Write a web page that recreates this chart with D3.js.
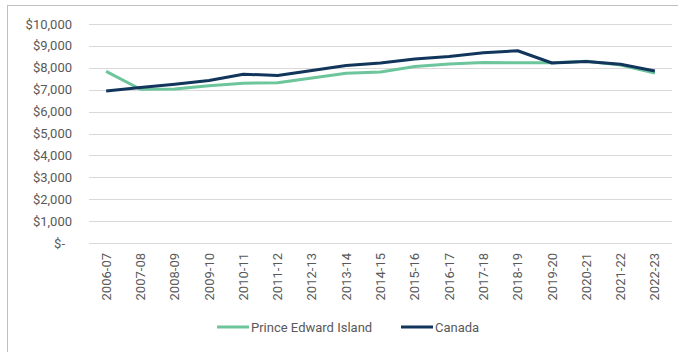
<!DOCTYPE html>
<html>
<head>
<meta charset="utf-8">
<script src="https://cdn.jsdelivr.net/npm/d3@7"></script>
<style>
  body { margin: 0; background: #fff; }
  text { font-family: Roboto, "Liberation Sans", sans-serif; fill: #595959; }
</style>
</head>
<body>
<div id="chart"></div>
<script>
// data
const years = ["2006-07", "2007-08", "2008-09", "2009-10", "2010-11", "2011-12", "2012-13",
    "2013-14", "2014-15", "2015-16", "2016-17", "2017-18", "2018-19", "2019-20",
    "2020-21", "2021-22", "2022-23"];
const pei = [7840, 7020, 7030, 7180, 7300, 7320, 7530, 7750, 7810, 8060, 8170, 8240, 8230, 8230, 8300, 8130, 7760];
const canada = [6940, 7100, 7250, 7420, 7710, 7650, 7880, 8100, 8220, 8400, 8520, 8690, 8780, 8220, 8290, 8160, 7850];
const yTicks = [0, 1000, 2000, 3000, 4000, 5000, 6000, 7000, 8000, 9000, 10000];

const series = [
    { name: "Prince Edward Island", values: pei, color: "#6cc59b" },
    { name: "Canada", values: canada, color: "#12355c" }
];

const W = 678, H = 352;
const svg = d3.select("#chart").append("svg")
    .attr("width", W)
    .attr("height", H);

// outer frame
svg.append("rect")
    .attr("x", 7.5).attr("y", 5.5)
    .attr("width", W).attr("height", H)
    .attr("fill", "none")
    .attr("stroke", "#bfbfbf");

const plotL = 89, plotR = 672, plotT = 24, plotB = 243;

const x = d3.scaleBand()
    .domain(years)
    .range([plotL, plotR]);

const y = d3.scaleLinear()
    .domain([0, 10000])
    .range([plotB, plotT]);

// gridlines
svg.append("g")
    .selectAll("line")
    .data(yTicks)
    .enter()
    .append("line")
    .attr("x1", plotL).attr("x2", plotR)
    .attr("y1", d => Math.round(y(d)) + 0.5)
    .attr("y2", d => Math.round(y(d)) + 0.5)
    .attr("stroke", "#d9d9d9")
    .attr("stroke-width", 1);

// y labels
const fmt = d3.format(",");
svg.append("g")
    .selectAll("text")
    .data(yTicks)
    .enter()
    .append("text")
    .attr("x", d => d === 0 ? 65 : 72)
    .attr("y", d => y(d))
    .attr("dy", "0.35em")
    .attr("text-anchor", "end")
    .style("font-size", "13px")
    .text(d => d === 0 ? "$-" : "$" + fmt(d));

// x labels, rotated
svg.append("g")
    .selectAll("text")
    .data(years)
    .enter()
    .append("text")
    .attr("transform", d => "translate(" + (x(d) + x.bandwidth() / 2) + "," + 253 + ") rotate(-90)")
    .attr("dy", "0.35em")
    .attr("text-anchor", "end")
    .style("font-size", "13px")
    .text(d => d);

// lines
const line = d3.line()
    .x((d, i) => x(years[i]) + x.bandwidth() / 2)
    .y(d => y(d));

svg.append("g")
    .selectAll("path")
    .data(series)
    .enter()
    .append("path")
    .attr("d", d => line(d.values))
    .attr("fill", "none")
    .attr("stroke", d => d.color)
    .attr("stroke-width", 3)
    .attr("stroke-linejoin", "round");

// legend
const legendX = [217, 401];
const legend = svg.append("g")
    .selectAll("g")
    .data(series)
    .enter()
    .append("g")
    .attr("transform", (d, i) => "translate(" + legendX[i] + "," + 327 + ")");

legend.append("line")
    .attr("x1", 0).attr("x2", 32)
    .attr("stroke", d => d.color)
    .attr("stroke-width", 3);

legend.append("text")
    .attr("x", 34)
    .attr("dy", "0.35em")
    .style("font-size", "13px")
    .text(d => d.name);
</script>
</body>
</html>
